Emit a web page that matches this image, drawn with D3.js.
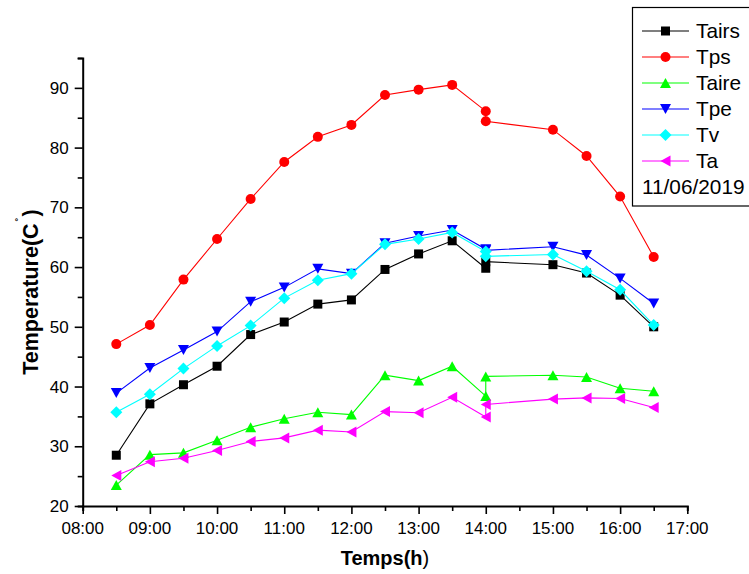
<!DOCTYPE html>
<html>
<head>
<meta charset="utf-8">
<script src="https://d3js.org/d3.v7.min.js"></script>
<style>
  body { margin: 0; background: #fff; }
  svg { font-family: Arial, 'Liberation Sans', sans-serif; }
</style>
</head>
<body>
<svg width="749" height="574"></svg>
<script>
// hours of the day (two readings at 14:00)
var times = [8.5, 9, 9.5, 10, 10.5, 11, 11.5, 12, 12.5, 13, 13.5, 14, 14, 15, 15.5, 16, 16.5];

var tairs = [28.5, 37.1, 40.3, 43.4, 48.7, 50.8, 53.8, 54.5, 59.6, 62.2, 64.4, 59.8, 60.9, 60.4, 59.0, 55.3, 50.0];
var tps = [47.1, 50.3, 57.9, 64.7, 71.4, 77.6, 81.8, 83.8, 88.8, 89.7, 90.5, 86.1, 84.4, 83.0, 78.6, 71.8, 61.7];
var taire = [23.5, 28.6, 28.9, 31.0, 33.2, 34.6, 35.7, 35.3, 41.9, 41.0, 43.4, 38.4, 41.7, 41.9, 41.6, 39.7, 39.2];
var tpe = [38.9, 43.1, 46.1, 49.2, 54.2, 56.6, 59.7, 58.9, 64.0, 65.2, 66.2, 63.0, 62.8, 63.4, 62.0, 58.1, 53.9];
var tv = [35.7, 38.7, 43.0, 46.8, 50.2, 54.8, 57.8, 58.9, 63.8, 64.7, 65.8, 62.6, 61.8, 62.1, 59.3, 56.2, 50.3];
var ta = [25.1, 27.4, 28.0, 29.3, 30.8, 31.4, 32.7, 32.4, 35.8, 35.6, 38.2, 34.9, 37.0, 37.9, 38.1, 38.0, 36.5];

var seriesNames = ['Tairs', 'Tps', 'Taire', 'Tpe', 'Tv', 'Ta'];
var seriesValues = [tairs, tps, taire, tpe, tv, ta];
var seriesColors = ['#000000', '#ff0000', '#00ff00', '#0000ff', '#00ffff', '#ff00ff'];
var seriesMarkers = ['square', 'circle', 'up', 'down', 'diamond', 'left'];

var xTicks = [8, 9, 10, 11, 12, 13, 14, 15, 16, 17];
var yTicks = [20, 30, 40, 50, 60, 70, 80, 90];
var dateLabel = '11/06/2019';

// plot box
var box = { left: 82.7, right: 687.3, top: 58, bottom: 506 };

var x = d3.scaleLinear().domain([8, 17]).range([box.left, box.right]);
var y = d3.scaleLinear().domain([20, 95]).range([box.bottom, box.top]);

var svg = d3.select('svg');

// marker path around 0,0
function markerPath(kind) {
  if (kind == 'square') return 'M-4.5,-4.5H4.5V4.5H-4.5Z';
  if (kind == 'circle') return 'M5,0A5,5 0 1,1 -5,0A5,5 0 1,1 5,0Z';
  if (kind == 'up') return 'M0,-5L5.5,5H-5.5Z';
  if (kind == 'down') return 'M0,5L5.5,-5H-5.5Z';
  if (kind == 'diamond') return 'M0,-6L6,0L0,6L-6,0Z';
  return 'M-5,0L5,-5.5V5.5Z';
}

// series lines + markers
seriesValues.forEach(function (vals, k) {
  var pts = vals.map(function (v, i) {
    return { t: times[i], v: v };
  });
  var line = d3.line()
    .x(function (d) { return x(d.t); })
    .y(function (d) { return y(d.v); });

  var g = svg.append('g');
  g.append('path')
    .datum(pts)
    .attr('d', line)
    .attr('fill', 'none')
    .attr('stroke', seriesColors[k])
    .attr('stroke-width', 1.1);

  g.selectAll('path.mk')
    .data(pts)
    .enter()
    .append('path')
    .attr('class', 'mk')
    .attr('d', markerPath(seriesMarkers[k]))
    .attr('transform', function (d) {
      return 'translate(' + x(d.t) + ',' + y(d.v) + ')';
    })
    .attr('fill', seriesColors[k]);
});

// x axis
var xAxis = svg.append('g')
  .attr('transform', 'translate(0,' + box.bottom + ')');
xAxis.call(d3.axisBottom(x).tickValues(d3.range(8, 17.01, 0.5)).tickSize(5).tickFormat(''));
xAxis.call(function (g) {
  g.selectAll('.tick line').filter(function (d) { return d % 1 == 0; }).attr('y2', 8);
});
xAxis.selectAll('.xl')
  .data(xTicks)
  .enter()
  .append('text')
  .attr('class', 'xl')
  .attr('x', function (d) { return x(d); })
  .attr('y', 28)
  .attr('text-anchor', 'middle')
  .attr('font-size', 17)
  .attr('fill', '#000')
  .text(function (d) { return (d < 10 ? '0' : '') + d + ':00'; });

// y axis
var yAxis = svg.append('g')
  .attr('transform', 'translate(' + box.left + ',0)');
yAxis.call(d3.axisLeft(y).tickValues(d3.range(20, 95.01, 5)).tickSize(5).tickFormat(''));
yAxis.call(function (g) {
  g.selectAll('.tick line').filter(function (d) { return d % 10 == 0; }).attr('x2', -8);
});
yAxis.selectAll('.yl')
  .data(yTicks)
  .enter()
  .append('text')
  .attr('class', 'yl')
  .attr('x', -14)
  .attr('y', function (d) { return y(d) + 6; })
  .attr('text-anchor', 'end')
  .attr('font-size', 17)
  .attr('fill', '#000')
  .text(function (d) { return d; });

[xAxis, yAxis].forEach(function (g) {
  g.select('.domain').attr('stroke', '#000').attr('stroke-width', 2);
  g.selectAll('.tick line').attr('stroke', '#000').attr('stroke-width', 1.6);
});

// axis titles
var xt = svg.append('text')
  .attr('x', (box.left + box.right) / 2)
  .attr('y', 565)
  .attr('text-anchor', 'middle')
  .attr('font-size', 20)
  .attr('font-weight', 'bold');
xt.append('tspan').text('Temps(h');
xt.append('tspan').attr('font-weight', 'normal').text(')');

var yt = svg.append('text')
  .attr('transform', 'translate(38,292) rotate(-90)')
  .attr('text-anchor', 'middle')
  .attr('font-size', 21.5)
  .attr('font-weight', 'bold');
yt.append('tspan').text('Temperature(C');
yt.append('tspan').attr('font-size', 12).attr('font-weight', 'normal').attr('dx', 2).attr('dy', -13).text('˚');
yt.append('tspan').attr('dx', 1).attr('dy', 13).text(')');

// legend
var legend = svg.append('g');
legend.append('rect')
  .attr('x', 632.5)
  .attr('y', 7.5)
  .attr('width', 140)
  .attr('height', 198.5)
  .attr('fill', '#fff')
  .attr('stroke', '#000')
  .attr('stroke-width', 1.2);

seriesNames.forEach(function (name, k) {
  var ly = 31 + k * 26;
  legend.append('line')
    .attr('x1', 642).attr('x2', 689)
    .attr('y1', ly).attr('y2', ly)
    .attr('stroke', seriesColors[k])
    .attr('stroke-width', 1.1);
  legend.append('path')
    .attr('d', markerPath(seriesMarkers[k]))
    .attr('transform', 'translate(665.5,' + ly + ')')
    .attr('fill', seriesColors[k]);
  legend.append('text')
    .attr('x', 696)
    .attr('y', ly + 7)
    .attr('font-size', 20.8)
    .text(name);
});
legend.append('text')
  .attr('x', 642)
  .attr('y', 194)
  .attr('font-size', 20.8)
  .text(dateLabel);
</script>
</body>
</html>
